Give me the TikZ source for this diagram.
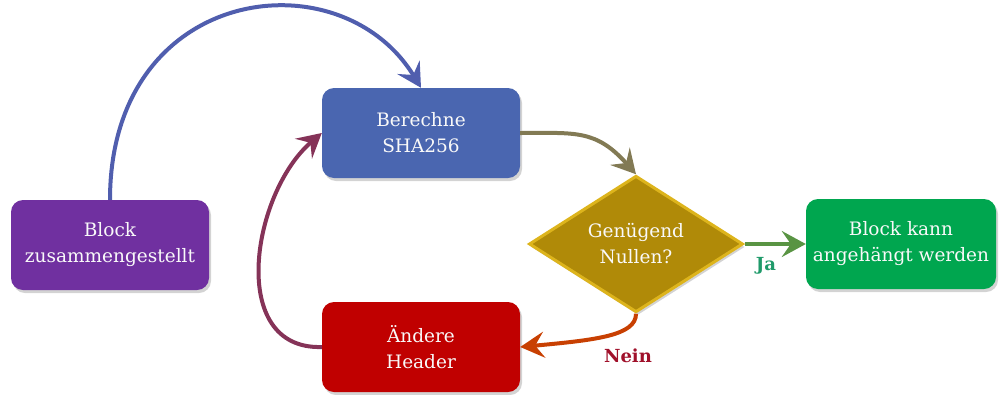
\documentclass[tikz,border=0pt]{standalone}
\usepackage{fontspec}
\setmainfont{DejaVu Serif}
\usetikzlibrary{arrows.meta,shapes.geometric,shadows}
\definecolor{blockpurple}{HTML}{7030A0}
\definecolor{hashblue}{HTML}{4A66B0}
\definecolor{headerred}{HTML}{C00000}
\definecolor{checkgold}{HTML}{B08A08}
\definecolor{checkrim}{HTML}{DDB41C}
\definecolor{validgreen}{HTML}{00A64F}
\definecolor{jagreen}{HTML}{1F9A6A}
\definecolor{neinred}{HTML}{A0102A}
\begin{document}
\begin{tikzpicture}[x=1pt,y=1pt,
    box/.style={rounded corners=12pt, minimum width=198pt, minimum height=90pt,
      align=center, text=white!95!gray, font=\fontsize{18.5}{26}\selectfont,
      drop shadow={shadow xshift=2pt, shadow yshift=-3pt, opacity=0.35}},
    decision/.style={diamond, fill=checkgold, draw=checkrim, line width=3pt,
      minimum width=214pt, minimum height=130pt, inner sep=0pt, align=center,
      text=white!95!gray, font=\fontsize{18.5}{26}\selectfont,
      drop shadow={shadow xshift=2pt, shadow yshift=-3pt, opacity=0.35}},
    flow/.style={line width=4pt, -{Stealth[length=24pt, width=26pt, inset=9pt]}},
    answer/.style={font=\bfseries\fontsize{18}{20}\selectfont}]
  \useasboundingbox (0,0) rectangle (999,-394);
  \node (block) [box, fill=blockpurple] at (110,-245) {Block\\zusammengestellt};
  \node (hash) [box, fill=hashblue] at (421,-133) {Berechne\\SHA256};
  \node (header) [box, fill=headerred] at (421,-347) {Ändere\\Header};
  \node (check) [decision] at (636,-244) {Genügend\\Nullen?};
  \node (valid) [box, fill=validgreen, minimum width=190pt] at (901,-244) {Block kann\\angehängt werden};
  % Pfeile
  \draw[flow, hashblue!85!blockpurple] (block.north) .. controls +(0,215) and +(-81,133) .. (hash.north);
  \draw[flow, hashblue!45!checkgold] (hash.east) .. controls +(55,0) and +(-40,45) .. (check.north);
  \draw[flow, checkgold!40!jagreen] (check.east) -- (valid.west);
  \draw[flow, checkgold!35!headerred!80!orange] (check.south) .. controls +(0,-22) and +(75,7) .. (header.east);
  \draw[flow, headerred!50!hashblue] (header.west) .. controls +(-95,-3) and +(-70,-60) .. (hash.west);
  \node (ja) [answer, text=jagreen] at (766,-266) {Ja};
  \node (nein) [answer, text=neinred] at (628,-356) {Nein};
\end{tikzpicture}
\end{document}
